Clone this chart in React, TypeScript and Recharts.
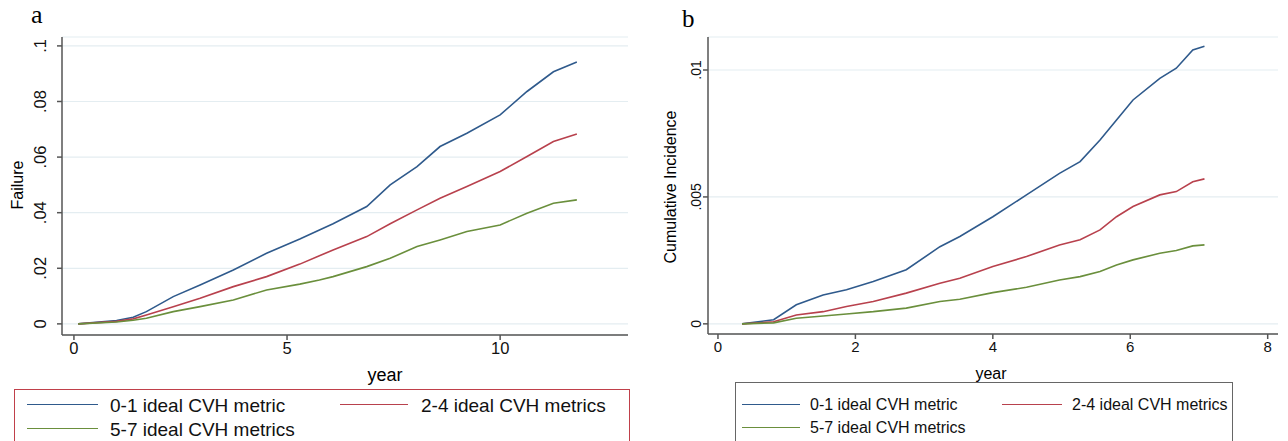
import React from 'react';
import { LineChart, Line, XAxis, YAxis, CartesianGrid } from 'recharts';

// Panel a: cumulative failure by year
const yearsA = [0.1, 1.0, 1.39, 1.7, 2.33, 2.96, 3.74, 4.52, 5.3, 5.76, 6.08, 6.87, 7.42, 8.05, 8.59, 9.22, 10.0, 10.63, 11.25, 11.8];
const blueA = [0, 0.0012, 0.0024, 0.0044, 0.0098, 0.014, 0.0194, 0.0254, 0.0305, 0.0338, 0.036, 0.0422, 0.05, 0.0566, 0.0638, 0.0686, 0.0752, 0.0836, 0.0907, 0.0942];
const redA = [0, 0.0009, 0.0018, 0.0032, 0.0062, 0.0092, 0.0134, 0.017, 0.0215, 0.0245, 0.0266, 0.0314, 0.036, 0.041, 0.0452, 0.0494, 0.0548, 0.0602, 0.0656, 0.0683];
const greenA = [0, 0.0007, 0.0013, 0.002, 0.0044, 0.0062, 0.0086, 0.0122, 0.0143, 0.0158, 0.017, 0.0206, 0.0236, 0.0278, 0.0302, 0.0332, 0.0356, 0.0398, 0.0434, 0.0446];
const xTicksA = [0, 5, 10];
const yTicksA = [0, 0.02, 0.04, 0.06, 0.08, 0.1];
const yLabelsA = ['0', '.02', '.04', '.06', '.08', '.1'];

// Panel b: cumulative incidence by year
const yearsB = [0.35, 0.81, 1.14, 1.53, 1.87, 2.26, 2.74, 3.23, 3.52, 4.0, 4.49, 4.97, 5.27, 5.56, 5.8, 6.04, 6.43, 6.67, 6.91, 7.08];
const blueB = [0, 0.00016, 0.00075, 0.00114, 0.00134, 0.00167, 0.00213, 0.00304, 0.00344, 0.00422, 0.00508, 0.00593, 0.00639, 0.00724, 0.00803, 0.00882, 0.00967, 0.01007, 0.01079, 0.01094];
const redB = [0, 0.00008, 0.00035, 0.00048, 0.00068, 0.00088, 0.00121, 0.0016, 0.0018, 0.00226, 0.00265, 0.00311, 0.00331, 0.0037, 0.00422, 0.00462, 0.00508, 0.00521, 0.0056, 0.00571];
const greenB = [0, 0.00004, 0.00022, 0.00031, 0.00039, 0.00048, 0.00062, 0.00088, 0.00097, 0.00123, 0.00144, 0.00173, 0.00186, 0.00206, 0.00232, 0.00252, 0.00278, 0.00289, 0.00307, 0.00311];
const xTicksB = [0, 2, 4, 6, 8];
const yTicksB = [0, 0.005, 0.01];
const yLabelsB = ['0', '.005', '.01'];

const seriesNames = ['0-1 ideal CVH metric', '2-4 ideal CVH metrics', '5-7 ideal CVH metrics'];
const BLUE = '#2f5a8c';
const RED = '#b8414d';
const GREEN = '#6a8f3c';
const AXIS = '#555';
const GRID = '#e4edf1';
const FONT = '"Liberation Sans", Arial, sans-serif';

const dataA = yearsA.map((t, i) => ({ t, b: blueA[i], r: redA[i], g: greenA[i] }));
const dataB = yearsB.map((t, i) => ({ t, b: blueB[i], r: redB[i], g: greenB[i] }));

const makeYTick = (ticks: number[], labels: string[], tx: number, size: number) => (props: any) => {
  const { y, payload } = props;
  const idx = ticks.findIndex((v) => Math.abs(v - payload.value) < 1e-9);
  return (
    <text
      x={tx}
      y={y}
      transform={`rotate(-90, ${tx}, ${y})`}
      textAnchor="middle"
      fontSize={size}
      fontFamily={FONT}
      fill="#111"
    >
      {idx >= 0 ? labels[idx] : payload.value}
    </text>
  );
};

// legend entry: line sample from x0 to x1, text starting at tx, vertically centred on cy
const LegendItem = ({ x0, x1, tx, cy, color, label, size }: any) => (
  <>
    <div style={{ position: 'absolute', left: x0, top: cy - 0.75, width: x1 - x0, borderTop: `1.5px solid ${color}` }} />
    <div
      style={{
        position: 'absolute',
        left: tx,
        top: cy,
        transform: 'translateY(-50%)',
        fontFamily: FONT,
        fontSize: size,
        lineHeight: 1,
        color: '#111',
        whiteSpace: 'nowrap',
      }}
    >
      {label}
    </div>
  </>
);

const lines = [
  ['b', BLUE],
  ['r', RED],
  ['g', GREEN],
];

export default function App() {
  return (
    <div style={{ position: 'absolute', left: 0, top: 0, width: 1288, height: 441, background: '#fff', overflow: 'hidden' }}>
      {/* panel a */}
      <div style={{ position: 'absolute', left: 0, top: 0, width: 640, height: 441 }}>
        <LineChart width={640} height={441} data={dataA} margin={{ top: 37, right: 12, left: 0, bottom: 76 }}>
          <CartesianGrid horizontal vertical={false} stroke={GRID} strokeWidth={1.2} />
          <XAxis
            dataKey="t"
            type="number"
            domain={[-0.28, 13.0]}
            ticks={xTicksA}
            allowDataOverflow
            height={30}
            tickSize={5}
            tick={{ fontSize: 16.5, fontFamily: FONT, fill: '#111' }}
            stroke={AXIS}
            strokeWidth={1.5}
          />
          <YAxis
            type="number"
            domain={[-0.004, 0.1032]}
            ticks={yTicksA}
            allowDataOverflow
            width={62}
            tickSize={5}
            tick={makeYTick(yTicksA, yLabelsA, 46, 16.5)}
            stroke={AXIS}
            strokeWidth={1.5}
          />
          {lines.map(([k, c]) => (
            <Line key={k} type="linear" dataKey={k} stroke={c} strokeWidth={1.6} dot={false} isAnimationActive={false} />
          ))}
        </LineChart>
      </div>
      <div style={{ position: 'absolute', left: 31, top: 2, fontFamily: '"Liberation Serif", serif', fontSize: 26, lineHeight: 1 }}>a</div>
      <div
        style={{
          position: 'absolute',
          left: 18,
          top: 185,
          transform: 'translate(-50%, -50%) rotate(-90deg)',
          fontFamily: FONT,
          fontSize: 16,
          lineHeight: 1,
          whiteSpace: 'nowrap',
        }}
      >
        Failure
      </div>
      <div style={{ position: 'absolute', left: 385, top: 375, transform: 'translate(-50%, -50%)', fontFamily: FONT, fontSize: 18, lineHeight: 1 }}>
        year
      </div>
      <div style={{ position: 'absolute', left: 14, top: 389, width: 616, height: 70, border: '1.5px solid #c0404a', boxSizing: 'border-box' }} />
      <LegendItem x0={27} x1={98} tx={110} cy={405} color={BLUE} label={seriesNames[0]} size={19} />
      <LegendItem x0={340} x1={408} tx={421} cy={405} color={RED} label={seriesNames[1]} size={19} />
      <LegendItem x0={27} x1={98} tx={110} cy={429} color={GREEN} label={seriesNames[2]} size={19} />

      {/* panel b */}
      <div style={{ position: 'absolute', left: 640, top: 0, width: 648, height: 441 }}>
        <LineChart width={648} height={441} data={dataB} margin={{ top: 37, right: 10, left: 0, bottom: 77 }}>
          <CartesianGrid horizontal vertical={false} stroke={GRID} strokeWidth={1.2} />
          <XAxis
            dataKey="t"
            type="number"
            domain={[-0.145, 8.15]}
            ticks={xTicksB}
            allowDataOverflow
            height={30}
            tickSize={5}
            tick={{ fontSize: 15, fontFamily: FONT, fill: '#111' }}
            stroke={AXIS}
            strokeWidth={1.5}
          />
          <YAxis
            type="number"
            domain={[-0.0004, 0.0113]}
            ticks={yTicksB}
            allowDataOverflow
            width={68}
            tickSize={5}
            tick={makeYTick(yTicksB, yLabelsB, 61, 14)}
            stroke={AXIS}
            strokeWidth={1.5}
          />
          {lines.map(([k, c]) => (
            <Line key={k} type="linear" dataKey={k} stroke={c} strokeWidth={1.6} dot={false} isAnimationActive={false} />
          ))}
        </LineChart>
      </div>
      <div style={{ position: 'absolute', left: 682, top: 6, fontFamily: '"Liberation Serif", serif', fontSize: 25, lineHeight: 1 }}>b</div>
      <div
        style={{
          position: 'absolute',
          left: 671,
          top: 187,
          transform: 'translate(-50%, -50%) rotate(-90deg)',
          fontFamily: FONT,
          fontSize: 16,
          lineHeight: 1,
          whiteSpace: 'nowrap',
        }}
      >
        Cumulative Incidence
      </div>
      <div style={{ position: 'absolute', left: 991, top: 374, transform: 'translate(-50%, -50%)', fontFamily: FONT, fontSize: 16, lineHeight: 1 }}>
        year
      </div>
      <div style={{ position: 'absolute', left: 735, top: 382, width: 498, height: 70, border: '1.5px solid #666', boxSizing: 'border-box' }} />
      <LegendItem x0={742} x1={800} tx={810} cy={405} color={BLUE} label={seriesNames[0]} size={16} />
      <LegendItem x0={1002} x1={1062} tx={1072} cy={405} color={RED} label={seriesNames[1]} size={16} />
      <LegendItem x0={742} x1={800} tx={810} cy={428} color={GREEN} label={seriesNames[2]} size={16} />
    </div>
  );
}
